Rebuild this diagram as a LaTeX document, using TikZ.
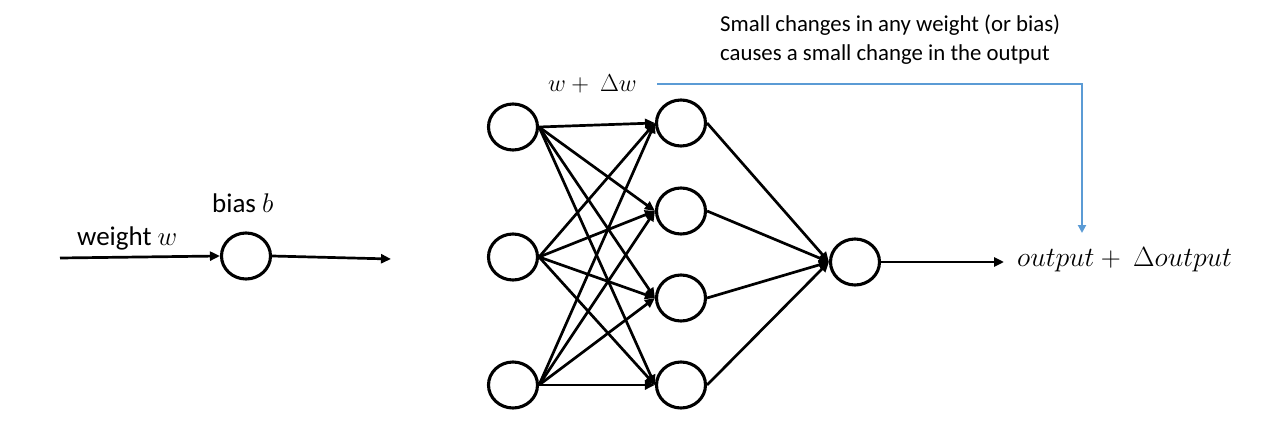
\documentclass[tikz,border=0pt]{standalone}
\usepackage{fix-cm}
\usepackage{fontspec}
\setmainfont{Carlito}
\usetikzlibrary{arrows.meta,shapes.geometric}
\definecolor{bluearrow}{RGB}{91,155,213}
\tikzset{
  neuron/.style={draw=black, ellipse, line width=3.1pt, minimum width=49pt, minimum height=46pt, inner sep=0pt},
  conn/.style={draw=black, line width=2.7pt, -{Triangle[length=10pt,width=9pt]}},
  bigtxt/.style={inner sep=0pt, font=\fontsize{27}{30}\selectfont},
  notetxt/.style={inner sep=0pt, font=\fontsize{22.8}{29}\selectfont},
}
\begin{document}
\begin{tikzpicture}[x=1pt,y=-1pt]
\useasboundingbox (0,0) rectangle (1270,425);
% left single neuron
\coordinate (lin) at (60,258);
\node[neuron] (single) at (246,256) {};
\coordinate (lout) at (391,259);
\draw[conn] (lin) -- (single.west);
\draw[conn] (single.east) -- (lout);
\node[bigtxt, anchor=base west] (wlab) at (77,245) {weight $w$};
\node[bigtxt, anchor=base west] (blab) at (212,212) {bias $b$};
% network
\node[neuron] (i1) at (513,127) {};
\node[neuron] (i2) at (513,257) {};
\node[neuron] (i3) at (513,385) {};
\node[neuron] (h1) at (681,123) {};
\node[neuron] (h2) at (681,211) {};
\node[neuron] (h3) at (681,298) {};
\node[neuron] (h4) at (681,385) {};
\node[neuron] (o) at (855,262) {};
\foreach \i in {i1,i2,i3}{
  \foreach \h in {h1,h2,h3,h4}{
    \draw[conn] (\i.east) -- (\h.west);
  }
}
\foreach \h in {h1,h2,h3,h4}{
  \draw[conn] (\h.east) -- (o.west);
}
\coordinate (oend) at (1004,262);
\draw[conn] (o.east) -- (oend);
\node[inner sep=0pt, anchor=base west, font=\fontsize{27.8}{30}\selectfont] (out) at (1017,266) {$output+\ \Delta output$};
\node[inner sep=0pt, anchor=base west, font=\fontsize{24.5}{28}\selectfont] (dw) at (548,92) {$w+\ \Delta w$};
% blue feedback arrow
\coordinate (bstart) at (657,84);
\coordinate (bcorner) at (1082,84);
\coordinate (btip) at (1082,233);
\draw[bluearrow, line width=2.7pt, -{Triangle[length=8pt,width=8pt]}] (bstart) -- (bcorner) -- (btip);
\node[notetxt, anchor=base west] (note1) at (720,32) {Small changes in any weight (or bias)};
\node[notetxt, anchor=base west] (note2) at (720,61) {causes a small change in the output};
\end{tikzpicture}
\end{document}
